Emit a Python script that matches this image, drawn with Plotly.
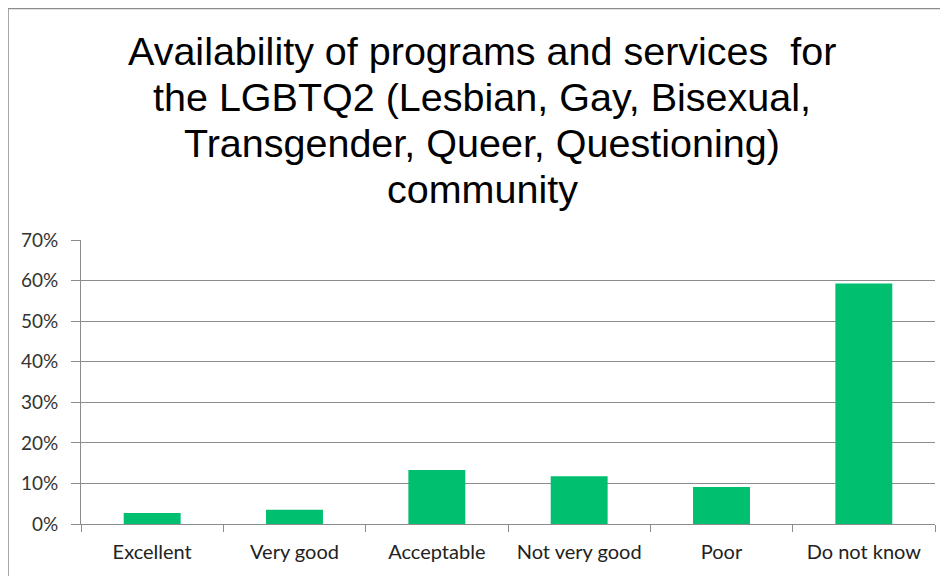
import plotly.graph_objects as go

categories = ["Excellent", "Very good", "Acceptable", "Not very good", "Poor", "Do not know"]
values = [0.027, 0.035, 0.133, 0.118, 0.091, 0.593]
title_lines = [
    "Availability of programs and services  for",
    "the LGBTQ2 (Lesbian, Gay, Bisexual,",
    "Transgender, Queer, Questioning)",
    "community",
]
y_ticks = [0, 0.1, 0.2, 0.3, 0.4, 0.5, 0.6, 0.7]
y_tick_labels = ["0%", "10%", "20%", "30%", "40%", "50%", "60%", "70%"]

# the page places the figure 8px from the top-left corner
W, H = 940, 568
L, R, T, B = 73, 13, 232, 52
plot_w = W - L - R
plot_h = H - T - B

def px_to_paper_x(px):
    return (px - L) / plot_w

def px_to_paper_y(py):
    return (H - B - py) / plot_h

fig = go.Figure(go.Bar(
    x=categories, y=values,
    marker=dict(color="#00BF6F", line=dict(width=0)),
))

title_centers = [43, 89, 135, 181]
for line, yc in zip(title_lines, title_centers):
    fig.add_annotation(
        text=line, xref="paper", yref="paper",
        x=px_to_paper_x(474), y=px_to_paper_y(yc),
        xanchor="center", yanchor="middle", showarrow=False,
        font=dict(family="Liberation Sans, Arial, sans-serif", size=39.5, color="#000000"),
    )

# outer chart frame
fig.add_shape(
    type="rect", xref="paper", yref="paper",
    x0=px_to_paper_x(0), x1=px_to_paper_x(W + 20),
    y0=px_to_paper_y(H + 20), y1=px_to_paper_y(0.5),
    line=dict(color="#8C8C8C", width=1.5), fillcolor="rgba(0,0,0,0)", layer="below",
)

fig.update_layout(
    width=W, height=H,
    margin=dict(l=L, r=R, t=T, b=B, autoexpand=False),
    paper_bgcolor="white", plot_bgcolor="white",
    bargap=0.6, showlegend=False,
    font=dict(family="Lato, sans-serif", size=19, color="#222222"),
)
fig.update_xaxes(
    type="category", showline=True, linecolor="#8C8C8C", linewidth=1,
    ticks="outside", tickson="boundaries", ticklen=7, tickcolor="#8C8C8C",
    showgrid=False, tickfont=dict(size=20, color="#222222"),
    automargin=False, ticklabelstandoff=10,
)
fig.update_yaxes(
    range=[0, 0.7], tickvals=y_ticks, ticktext=y_tick_labels,
    showline=True, linecolor="#8C8C8C", linewidth=1,
    ticks="outside", ticklen=9, tickcolor="#8C8C8C",
    showgrid=True, gridcolor="#8C8C8C", gridwidth=1, zeroline=False,
    tickfont=dict(size=19, color="#333333"), ticklabelstandoff=9,
    automargin=False,
)

fig.write_html("out.html")
